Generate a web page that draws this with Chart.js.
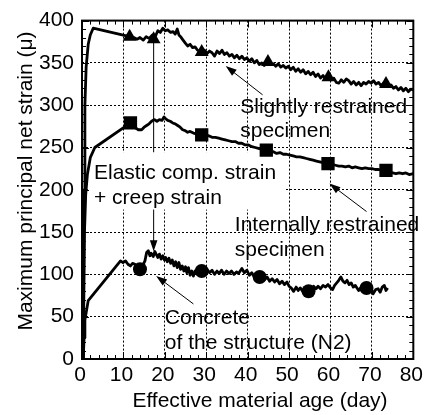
<!DOCTYPE html>
<html>
<head>
<meta charset="utf-8">
<script src="https://cdn.jsdelivr.net/npm/chart.js@4.4.1/dist/chart.umd.min.js"></script>
<style>
  html, body { margin: 0; padding: 0; background: #fff; }
  #wrap { width: 429px; height: 415px; }
</style>
</head>
<body>
<div id="wrap"><canvas id="strainChart" width="429" height="415"></canvas></div>
<script>
// tick labels
const xTicks = [0, 10, 20, 30, 40, 50, 60, 70, 80];
const yTicks = [0, 50, 100, 150, 200, 250, 300, 350, 400];

// slightly restrained specimen (triangles)
const slightDays = [0.3, 0.5, 0.7, 1.0, 1.5, 2.0, 2.7, 11.5, 12.5, 13.3, 14.0, 14.8, 15.5, 16.2, 17.0, 17.6, 18.3, 18.9, 19.5, 20.1, 20.7, 21.4, 22.0, 22.5, 23.0, 23.4, 23.8, 24.4, 25.0, 25.5, 26.1, 26.7, 27.3, 27.9, 28.9, 29.6, 30.2, 30.8, 31.4, 32.0, 32.6, 33.2, 33.8, 34.4, 35.0, 35.6, 36.2, 36.8, 37.4, 38.0, 38.6, 39.2, 39.8, 40.4, 41.0, 41.6, 42.2, 42.8, 43.4, 44.0, 44.9, 45.6, 46.2, 46.8, 47.4, 48.0, 48.6, 49.2, 49.8, 50.4, 51.0, 51.6, 52.2, 52.8, 53.4, 54.0, 54.6, 55.2, 55.8, 56.4, 57.0, 57.6, 58.2, 58.8, 59.5, 60.2, 60.8, 61.4, 62.0, 62.6, 63.2, 63.8, 64.4, 65.0, 65.6, 66.2, 66.8, 67.4, 68.0, 68.6, 69.2, 69.8, 70.4, 71.0, 71.6, 72.2, 72.8, 73.4, 74.0, 74.6, 75.2, 75.8, 76.4, 77.0, 77.6, 78.2, 78.8, 79.4, 80.0];
const slightStrain = [0, 200, 300, 345, 372, 383, 391, 381, 380, 378, 380, 377, 381, 379, 383, 380, 388, 386, 391, 388, 389, 386, 387, 384, 390, 383, 381, 377, 373, 370, 372, 368, 369, 365, 363, 365, 361, 364, 362, 358, 364, 361, 365, 360, 362, 358, 360, 356, 359, 355, 358, 354, 356, 352, 355, 350, 353, 348, 350, 347, 351, 348, 349, 346, 349, 345, 347, 344, 346, 342, 345, 340, 343, 339, 342, 337, 340, 336, 339, 334, 337, 332, 335, 331, 333, 330, 332, 327, 326, 330, 327, 331, 329, 325, 328, 324, 327, 323, 327, 325, 328, 326, 329, 325, 327, 323, 326, 325, 322, 324, 320, 322, 318, 321, 317, 320, 316, 319, 318];
const slightMarkDays = [11.5, 17.3, 28.9, 44.9, 59.5, 73.4];
const slightMarkStrain = [381, 378, 363, 351, 333, 325];

// internally restrained specimen (squares)
const internDays = [0.3, 0.6, 0.9, 1.3, 2.0, 3.1, 11.7, 12.3, 13.0, 13.6, 14.4, 15.0, 15.6, 16.2, 16.8, 17.5, 18.1, 18.7, 19.3, 19.8, 20.2, 20.7, 21.3, 21.9, 22.5, 23.1, 23.7, 24.3, 24.9, 25.5, 26.1, 26.9, 27.6, 28.9, 29.8, 30.6, 31.4, 32.2, 33.0, 33.8, 34.6, 35.4, 36.2, 37.0, 37.8, 38.6, 39.4, 40.2, 41.0, 41.8, 42.6, 43.3, 44.5, 45.4, 46.2, 47.0, 47.8, 48.6, 49.4, 50.2, 51.0, 51.8, 52.6, 53.4, 54.2, 55.0, 55.8, 56.6, 57.4, 58.2, 59.4, 60.4, 61.2, 62.0, 62.8, 63.6, 64.4, 65.2, 66.0, 66.8, 67.6, 68.4, 69.2, 70.0, 70.8, 71.6, 72.4, 73.4, 74.2, 75.0, 75.8, 76.6, 77.4, 78.2, 79.0, 80.0];
const internStrain = [0, 150, 195, 218, 238, 250, 279, 277, 273, 271, 271, 274, 276, 278, 281, 283, 281, 283, 282, 286, 284, 282, 281, 279, 278, 276, 274, 271, 270, 268, 269, 267, 266, 265, 263, 264, 262, 262, 261, 260, 259, 258, 257, 257, 255, 255, 253, 253, 251, 250, 249, 248, 246, 245, 245, 243, 244, 242, 242, 241, 240, 239, 239, 238, 237, 236, 235, 234, 233, 232, 231, 230, 229, 228, 228, 227, 228, 226, 227, 226, 225, 226, 225, 225, 224, 224, 223, 223, 222, 220, 219, 220, 219, 220, 218, 219];
const internMarkDays = [11.7, 28.9, 44.5, 59.4, 73.4];
const internMarkStrain = [279, 265, 247, 231, 223];

// concrete of the structure N2 (circles)
const concDays = [0.3, 0.5, 0.7, 1.5, 9.3, 9.9, 10.5, 11.1, 11.7, 12.2, 12.8, 13.4, 14.0, 14.6, 15.2, 15.6, 16.0, 16.4, 16.7, 17.2, 17.6, 17.9, 18.3, 18.7, 19.1, 19.5, 19.9, 20.2, 20.6, 21.0, 21.4, 21.8, 22.2, 22.6, 23.0, 23.4, 23.8, 24.2, 24.6, 25.0, 25.3, 25.7, 26.1, 26.5, 26.9, 27.3, 27.7, 28.2, 28.9, 29.6, 30.2, 30.8, 31.4, 32.0, 32.6, 33.1, 33.7, 34.3, 34.9, 35.5, 36.1, 36.7, 37.3, 37.8, 38.6, 39.2, 39.8, 40.4, 41.0, 41.6, 42.2, 42.9, 43.5, 44.1, 44.7, 45.3, 45.9, 46.5, 47.1, 47.7, 48.3, 48.9, 49.5, 50.0, 50.5, 51.1, 51.7, 52.2, 52.7, 53.3, 53.9, 54.7, 55.3, 55.9, 56.5, 57.0, 57.6, 58.2, 58.8, 59.4, 60.0, 60.5, 61.0, 61.5, 62.0, 62.5, 63.0, 63.5, 64.0, 64.5, 65.0, 65.5, 66.0, 66.8, 67.4, 68.0, 68.7, 69.3, 69.8, 70.3, 70.9, 71.5, 72.0, 72.5, 73.0, 73.4, 73.8];
const concStrain = [0, 25, 46, 69, 116, 114, 116, 112, 110, 113, 112, 108, 106, 110, 116, 126, 128, 122, 125, 121, 127, 124, 120, 124, 118, 122, 117, 120, 115, 119, 113, 117, 110, 115, 108, 114, 106, 110, 104, 109, 102, 108, 99, 104, 98, 104, 101, 106, 105, 103, 106, 102, 105, 100, 104, 101, 105, 100, 104, 101, 104, 100, 103, 101, 107, 102, 105, 99, 102, 97, 100, 97, 99, 94, 97, 92, 95, 91, 94, 89, 92, 88, 91, 86, 84, 80, 85, 81, 84, 80, 83, 80, 82, 86, 83, 86, 83, 87, 85, 88, 84, 82, 87, 90, 93, 97, 92, 90, 93, 88, 90, 85, 87, 81, 85, 82, 84, 80, 84, 77, 82, 83, 79, 85, 87, 81, 84];
const concMarkDays = [14.0, 28.9, 42.9, 54.7, 68.7];
const concMarkStrain = [106, 104, 97, 80, 84];

// annotations, in data units (day, strain)
const noteTexts = ['Slightly restrained', 'specimen', 'Elastic comp. strain', '+ creep strain', 'Internally restrained', 'specimen', 'Concrete', 'of the structure (N2)'];
const noteDays = [38.2, 38.2, 2.9, 2.9, 36.9, 36.9, 20.0, 20.0];
const noteStrain = [291.2, 262, 212.9, 183.6, 150.9, 121.6, 40.9, 11.7];
const arrowFrom = [[43.6, 312.3], [68.7, 174.3], [26.9, 65.1], [17.3, 376]];
const arrowTo = [[34.7, 346.2], [59.75, 207.4], [17.9, 98.2], [17.3, 127.5]];
const maskBox = [1.4, 48.8, 176.6, 244.4];

const FONT = '"Liberation Sans", Arial, sans-serif';

function pts(xs, ys) {
    return xs.map(function (d, i) { return { x: d, y: ys[i] }; });
}

function arrow(ctx, x1, y1, x2, y2) {
    const ang = Math.atan2(y2 - y1, x2 - x1);
    const len = 11, hw = 3.8;
    ctx.beginPath();
    ctx.moveTo(x1, y1);
    ctx.lineTo(x2 - Math.cos(ang) * len * 0.8, y2 - Math.sin(ang) * len * 0.8);
    ctx.stroke();
    ctx.beginPath();
    ctx.moveTo(x2, y2);
    ctx.lineTo(x2 - Math.cos(ang) * len - Math.sin(ang) * hw, y2 - Math.sin(ang) * len + Math.cos(ang) * hw);
    ctx.lineTo(x2 - Math.cos(ang) * len + Math.sin(ang) * hw, y2 - Math.sin(ang) * len - Math.cos(ang) * hw);
    ctx.closePath();
    ctx.fill();
}

const decorPlugin = {
    id: 'decor',
    beforeDatasetsDraw: function (chart) {
        const ctx = chart.ctx;
        const xs = chart.scales.x, ys = chart.scales.y;
        ctx.save();
        ctx.strokeStyle = '#000';
        ctx.fillStyle = '#000';
        ctx.lineWidth = 1;
        for (let i = 0; i < arrowFrom.length; i++) {
            arrow(ctx,
                xs.getPixelForValue(arrowFrom[i][0]), ys.getPixelForValue(arrowFrom[i][1]),
                xs.getPixelForValue(arrowTo[i][0]), ys.getPixelForValue(arrowTo[i][1]));
        }
        // white box behind the "Elastic comp." note
        const bx0 = xs.getPixelForValue(maskBox[0]), bx1 = xs.getPixelForValue(maskBox[1]);
        const by0 = ys.getPixelForValue(maskBox[3]), by1 = ys.getPixelForValue(maskBox[2]);
        ctx.fillStyle = '#fff';
        ctx.fillRect(bx0, by0, bx1 - bx0, by1 - by0);

        ctx.fillStyle = '#000';
        ctx.font = '21px ' + FONT;
        ctx.textAlign = 'left';
        ctx.textBaseline = 'alphabetic';
        for (let i = 0; i < noteTexts.length; i++) {
            ctx.fillText(noteTexts[i], xs.getPixelForValue(noteDays[i]), ys.getPixelForValue(noteStrain[i]));
        }
        ctx.restore();
    },
    afterDraw: function (chart) {
        const ctx = chart.ctx;
        const a = chart.chartArea;
        const xs = chart.scales.x, ys = chart.scales.y;
        ctx.save();
        ctx.strokeStyle = '#000';
        ctx.lineWidth = 1;
        ctx.beginPath();
        for (let d = 0; d <= 80; d += 2) {
            const px = Math.round(xs.getPixelForValue(d)) + 0.5;
            const len = d % 10 === 0 ? 7 : 4;
            ctx.moveTo(px, a.bottom); ctx.lineTo(px, a.bottom - len);
            ctx.moveTo(px, a.top); ctx.lineTo(px, a.top + len);
        }
        for (let v = 0; v <= 400; v += 10) {
            const py = Math.round(ys.getPixelForValue(v)) + 0.5;
            const len = v % 50 === 0 ? 7 : 4;
            ctx.moveTo(a.left, py); ctx.lineTo(a.left + len, py);
            ctx.moveTo(a.right, py); ctx.lineTo(a.right - len, py);
        }
        ctx.stroke();
        ctx.lineWidth = 2;
        ctx.strokeRect(a.left, a.top, a.right - a.left, a.bottom - a.top);

        // axis titles
        ctx.fillStyle = '#000';
        ctx.font = '21px ' + FONT;
        ctx.textAlign = 'center';
        ctx.textBaseline = 'alphabetic';
        ctx.fillText('Effective material age (day)', 260, 407);
        ctx.translate(31.5, 181);
        ctx.rotate(-Math.PI / 2);
        ctx.fillText('Maximum principal net strain (\u03bc)', 0, 0);
        ctx.restore();
    }
};

function lineSet(xs, ys) {
    return {
        data: pts(xs, ys),
        showLine: true,
        borderColor: '#000',
        borderWidth: 2.8,
        pointRadius: 0,
        tension: 0,
        borderJoinStyle: 'round'
    };
}

function markSet(xs, ys, style, r) {
    return {
        data: pts(xs, ys),
        showLine: false,
        pointStyle: style,
        pointRadius: r,
        backgroundColor: '#000',
        borderColor: '#000',
        borderWidth: 0
    };
}

const ctx = document.getElementById('strainChart').getContext('2d');
const strainChart = new Chart(ctx, {
    type: 'scatter',
    data: {
        datasets: [
            lineSet(slightDays, slightStrain),
            lineSet(internDays, internStrain),
            lineSet(concDays, concStrain),
            markSet(slightMarkDays, slightMarkStrain, 'triangle', 8),
            markSet(internMarkDays, internMarkStrain, 'rect', 9.4),
            markSet(concMarkDays, concMarkStrain, 'circle', 7)
        ]
    },
    options: {
        responsive: false,
        animation: false,
        devicePixelRatio: 1,
        layout: { padding: { left: 0, right: 6, top: 17, bottom: 0 } },
        plugins: {
            legend: { display: false },
            tooltip: { enabled: false }
        },
        scales: {
            x: {
                type: 'linear',
                min: 0,
                max: 80,
                afterFit: function (s) { s.height = 56; },
                afterBuildTicks: function (s) { s.ticks = xTicks.map(function (v) { return { value: v }; }); },
                ticks: {
                    color: '#000',
                    font: { size: 21, family: FONT },
                    padding: 4,
                    labelOffset: -2,
                    maxRotation: 0
                },
                grid: { color: '#000', lineWidth: 1, drawTicks: false },
                border: { display: false, dash: [2, 2] }
            },
            y: {
                type: 'linear',
                min: 0,
                max: 400,
                afterFit: function (s) { s.width = 82; },
                afterBuildTicks: function (s) { s.ticks = yTicks.map(function (v) { return { value: v }; }); },
                ticks: {
                    color: '#000',
                    font: { size: 21, family: FONT },
                    padding: 8
                },
                grid: { color: '#000', lineWidth: 1, drawTicks: false },
                border: { display: false, dash: [2, 2] }
            }
        }
    },
    plugins: [decorPlugin]
});
</script>
</body>
</html>
